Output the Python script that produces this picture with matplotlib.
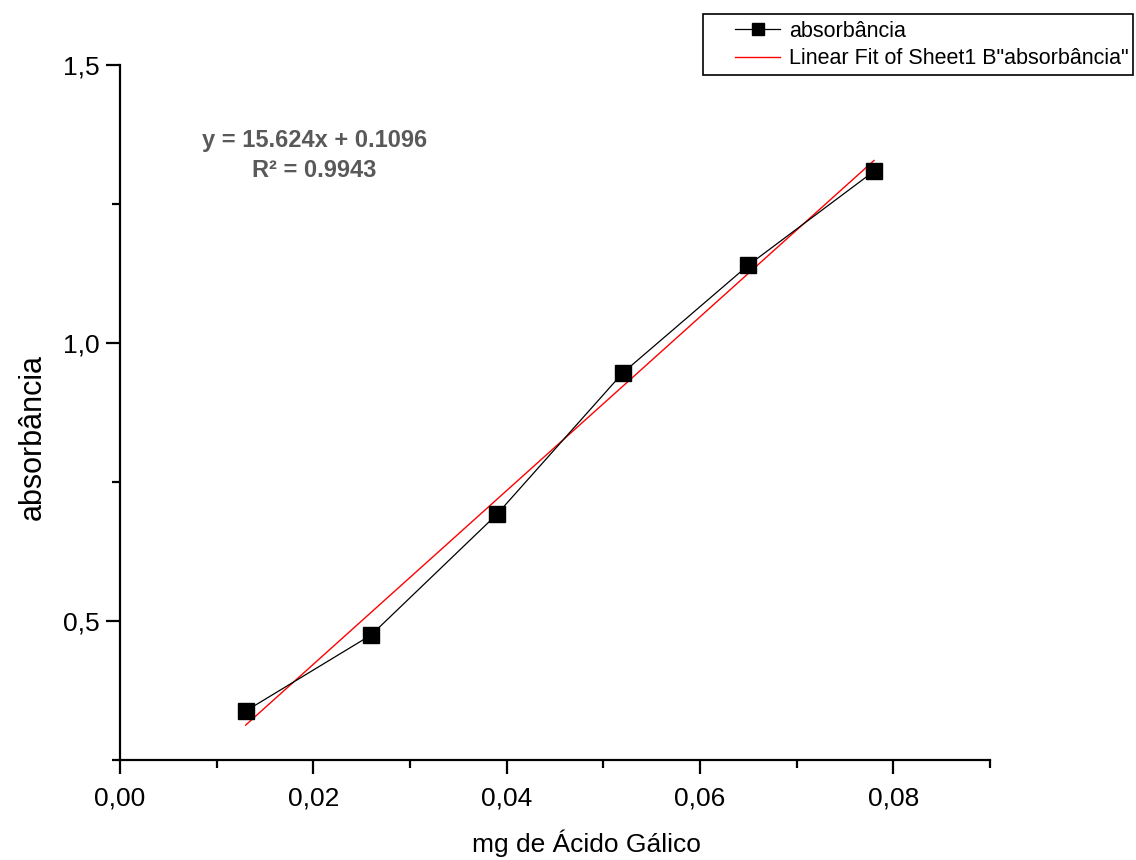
import matplotlib
matplotlib.use("Agg")
import matplotlib.pyplot as plt
import numpy as np
from matplotlib.patches import Rectangle
from matplotlib.ticker import MultipleLocator, FuncFormatter

plt.rcParams['font.family'] = ['Liberation Sans', 'DejaVu Sans']

# Curva de calibração do ácido gálico
massa = [0.013, 0.026, 0.039, 0.052, 0.065, 0.078]
absorbancia = [0.338, 0.475, 0.692, 0.946, 1.140, 1.309]

# Coeficientes do ajuste linear
inclinacao = 15.624
intercepto = 0.1096
r2 = 0.9943

fig = plt.figure(figsize=(11.36, 8.6), dpi=100)
ax = fig.add_axes([0.1056, 0.1163, 0.7659, 0.8081])

ax.plot(massa, absorbancia, color="black", lw=0.9, marker="s", ms=11,
        mfc="black", mec="black", label="absorbância", zorder=3)

x_fit = np.array([massa[0], massa[-1]])
ax.plot(x_fit, inclinacao * x_fit + intercepto, color="red", lw=1.0,
        label='Linear Fit of Sheet1 B"absorbância"', zorder=2)

ax.set_xlim(0, 0.09)
ax.set_ylim(0.25, 1.5)

ax.spines["top"].set_visible(False)
ax.spines["right"].set_visible(False)
ax.spines["left"].set_linewidth(1.6)
ax.spines["bottom"].set_linewidth(1.6)

ax.xaxis.set_major_locator(MultipleLocator(0.02))
ax.xaxis.set_minor_locator(MultipleLocator(0.01))
ax.yaxis.set_major_locator(MultipleLocator(0.5))
ax.yaxis.set_minor_locator(MultipleLocator(0.25))

ax.xaxis.set_major_formatter(FuncFormatter(lambda v, p: f"{v:.2f}".replace(".", ",")))
ax.yaxis.set_major_formatter(FuncFormatter(lambda v, p: f"{v:.1f}".replace(".", ",")))

ax.tick_params(which="major", direction="out", length=10, width=1.6, labelsize=19)
ax.tick_params(axis="x", which="major", pad=9)
ax.tick_params(axis="y", which="major", pad=5)
ax.tick_params(which="minor", direction="out", length=5.5, width=1.6)

ax.set_xlabel("mg de Ácido Gálico", fontsize=19)
ax.set_ylabel("absorbância", fontsize=22)
ax.xaxis.set_label_coords(0.536, -0.100)
ax.yaxis.set_label_coords(-0.083, 0.465)

# Equação da reta e R²
ax.text(0.0201, 1.337, f"y = {inclinacao}x + {intercepto}\nR² = {r2}",
        ha="center", va="center", fontsize=17, fontweight="bold",
        color="#595959", linespacing=1.4)

# Legenda com moldura própria
leg = ax.legend(loc="upper left", bbox_to_anchor=(735 / 1136, 1 - 21 / 860),
                bbox_transform=fig.transFigure, fontsize=15.5, frameon=False,
                borderpad=0, borderaxespad=0, handlelength=2.1, handletextpad=0.4,
                labelspacing=0.3, markerscale=0.8)
fig.patches.append(Rectangle((703 / 1136, 1 - 75 / 860), 430 / 1136, 61 / 860,
                             transform=fig.transFigure, fill=False,
                             edgecolor="black", lw=1.2))

fig.savefig("out.png", dpi=100)
